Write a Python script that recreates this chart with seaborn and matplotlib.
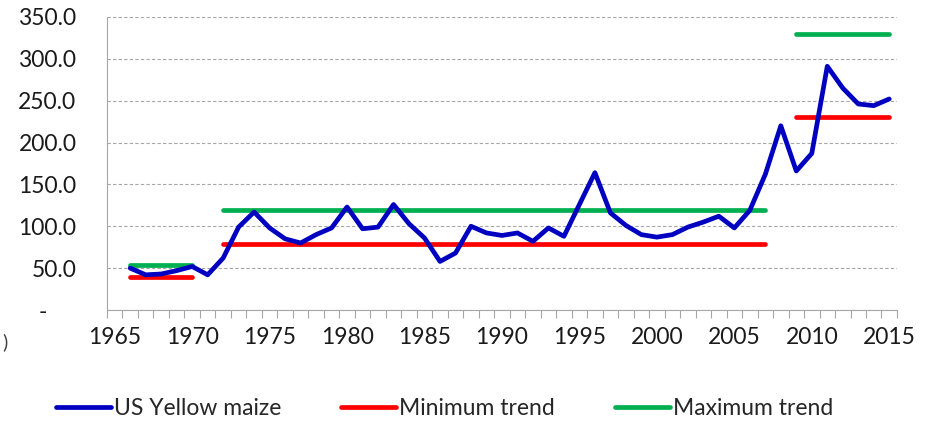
import numpy as np
import pandas as pd
import seaborn as sns
import matplotlib.pyplot as plt
from matplotlib.ticker import MultipleLocator, FuncFormatter, NullFormatter

# US yellow maize price
years = list(range(1966, 2016))
maize = [50, 42, 43, 47, 52, 42, 62, 99, 117, 98,
         85, 80, 90, 98, 123, 97, 99, 126, 103, 86,
         58, 68, 100, 92, 89, 92, 82, 98, 88, 126,
         164, 116, 101, 90, 87, 90, 99, 105, 112, 98,
         119, 162, 220, 166, 187, 291, 265, 246, 244, 252]

# trend segments
seg_start = [1966, 1972, 2009]
seg_end = [1970, 2007, 2015]
min_level = [39, 79, 230]
max_level = [54, 120, 330]

sns.set_style("white")
plt.rcParams['font.family'] = ['Lato', 'DejaVu Sans']

df = pd.DataFrame({'year': years, 'price': maize})

rows = []
for i in range(len(seg_start)):
    for y in (seg_start[i], seg_end[i]):
        rows.append({'seg': i, 'year': y, 'min': min_level[i], 'max': max_level[i]})
trend = pd.DataFrame(rows)

fig = plt.figure(figsize=(9.3, 4.22), dpi=100)
ax = fig.add_axes([0.115, 0.2654, 0.8495, 0.6946])

ax.yaxis.grid(True, linestyle=(0, (3, 2)), color='#a6a6a6', linewidth=0.8)
ax.set_axisbelow(True)

lw = 3.4
sns.lineplot(data=trend, x='year', y='max', units='seg', estimator=None,
             color='#00b050', linewidth=lw, ax=ax, solid_capstyle='round')
sns.lineplot(data=trend, x='year', y='min', units='seg', estimator=None,
             color='#ff0000', linewidth=lw, ax=ax, solid_capstyle='round')
sns.lineplot(data=df, x='year', y='price', color='#0000c0', linewidth=lw,
             ax=ax, solid_joinstyle='round')

ax.set_xlim(1964.5, 2015.5)
ax.set_ylim(0, 350)
ax.set_xlabel('')
ax.set_ylabel('')

ax.xaxis.set_major_locator(MultipleLocator(5))
ax.xaxis.set_minor_locator(MultipleLocator(1))
ax.tick_params(axis='x', which='both', direction='in', length=6, width=0.8,
               color='#a6a6a6')
ax.tick_params(axis='x', which='major', labelsize=16.5, pad=12, labelcolor='#1a1a1a')

# half-year ticks hanging below the axis
sec = ax.secondary_xaxis('bottom')
sec.xaxis.set_major_locator(MultipleLocator(1, offset=0.5))
sec.xaxis.set_major_formatter(NullFormatter())
sec.tick_params(direction='out', length=6, width=0.8, color='#a6a6a6')
sec.spines['bottom'].set_visible(False)

ax.yaxis.set_major_locator(MultipleLocator(50))
ax.yaxis.set_major_formatter(FuncFormatter(lambda v, p: '-     ' if v == 0 else f'{v:.1f}'))
ax.tick_params(axis='y', length=0, labelsize=16.5, pad=22, labelcolor='#1a1a1a')

for s in ['top', 'right']:
    ax.spines[s].set_visible(False)
for s in ['left', 'bottom']:
    ax.spines[s].set_color('#a6a6a6')
    ax.spines[s].set_linewidth(0.8)

fig.text(0.002, 0.175, ')', fontsize=14, color='#404040')

h = [plt.Line2D([], [], color='#0000c0', lw=lw),
     plt.Line2D([], [], color='#ff0000', lw=lw),
     plt.Line2D([], [], color='#00b050', lw=lw)]
fig.legend(h, ['US Yellow maize', 'Minimum trend', 'Maximum trend'],
           loc='center', bbox_to_anchor=(0.478, 0.033), ncol=3, frameon=False,
           fontsize=16.5, handlelength=2.4, handletextpad=0.15, columnspacing=2.6)

fig.savefig('out.png', dpi=100)
